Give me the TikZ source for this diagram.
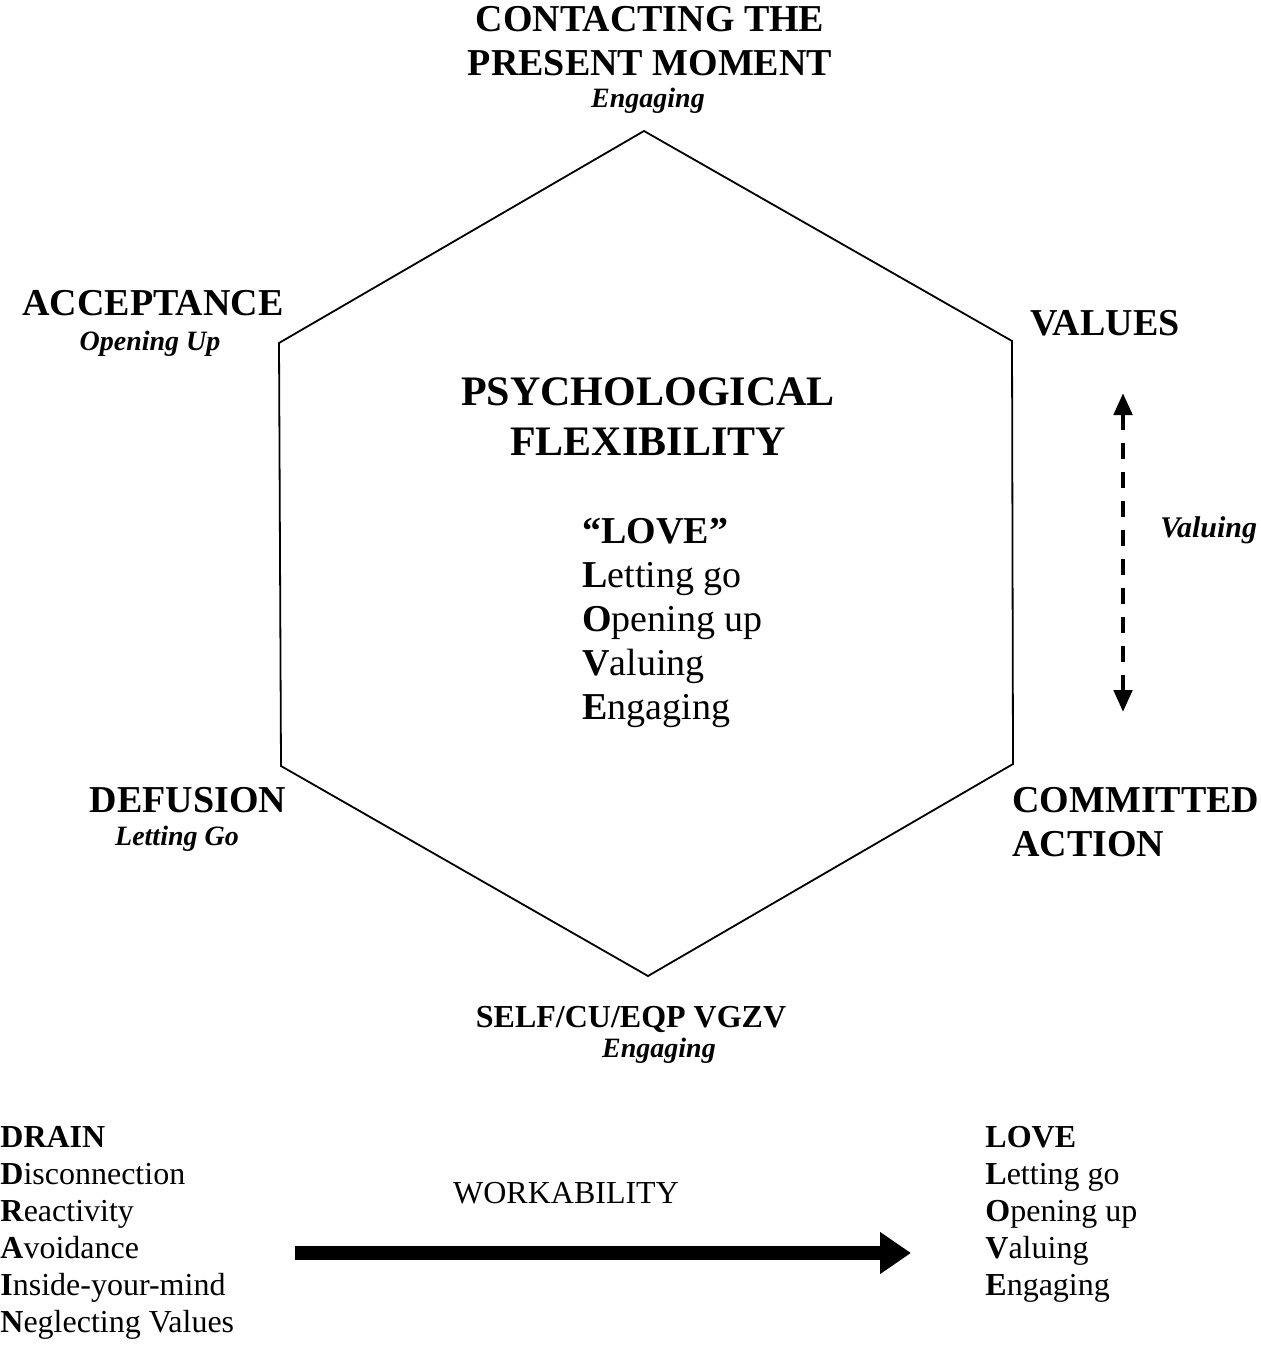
\documentclass[tikz,border=0pt]{standalone}
\usepackage{fontspec}
\setmainfont{Liberation Serif}
\usetikzlibrary{arrows.meta}

\begin{document}
\begin{tikzpicture}[x=0.5pt,y=-0.5pt,inner sep=0pt,
                    hex/.style={line width=0.9pt},
                    thick arrow/.style={line width=7pt,-{Triangle[length=15.5pt,width=20pt]}},
                    dash arrow/.style={line width=2.4pt,dash pattern=on 8pt off 6.5pt,
                      {Triangle[length=11pt,width=9pt]}-{Triangle[length=11pt,width=9pt]}}]
  \tikzstyle{corner}=[font=\fontsize{19}{22}\selectfont\bfseries,align=center]
  \tikzstyle{sub}=[font=\fontsize{14}{16}\selectfont\bfseries\itshape]
  \tikzstyle{title}=[font=\fontsize{21}{25}\selectfont\bfseries,align=center]
  \tikzstyle{bigitems}=[font=\fontsize{19}{22}\selectfont,align=left]
  \tikzstyle{items}=[font=\fontsize{16}{18.5}\selectfont,align=left]

  \useasboundingbox (0,0) rectangle (1260,1348);

  % hexagon
  \coordinate (hT)  at (644,131);
  \coordinate (hUR) at (1012,341);
  \coordinate (hLR) at (1013,764);
  \coordinate (hB)  at (648,976);
  \coordinate (hLL) at (281,766);
  \coordinate (hUL) at (279,343);
  \draw[hex] (hT) -- (hUR) -- (hLR) -- (hB) -- (hLL) -- (hUL) -- cycle;

  % the six corners (base = last line)
  \node[corner,anchor=base] (present) at (650,76) {CONTACTING THE\\PRESENT MOMENT};
  \node[sub,anchor=base]    (presentsub) at (648,108) {Engaging};
  \node[corner,anchor=base] (accept) at (153,315) {ACCEPTANCE};
  \node[sub,anchor=base]    (acceptsub) at (150,350) {Opening Up};
  \node[corner,anchor=base west] (values) at (1030,335) {VALUES};
  \node[corner,anchor=base] (defus) at (188,812) {DEFUSION};
  \node[sub,anchor=base]    (defussub) at (177,845) {Letting Go};
  \node[corner,anchor=base west,align=left] (commit) at (1012,856) {COMMITTED\\ACTION};
  \node[corner,anchor=base,font=\fontsize{16}{18}\selectfont\bfseries] (self) at (631,1027) {SELF/CU/EQP VGZV};
  \node[sub,anchor=base]    (selfsub) at (659,1057) {Engaging};

  % middle
  \node[title,anchor=base] (flex) at (648,455) {PSYCHOLOGICAL\\FLEXIBILITY};
  \node[bigitems,anchor=base west] (love) at (582,719)
    {\textbf{“LOVE”}\\\textbf{L}etting go\\\textbf{O}pening up\\\textbf{V}aluing\\\textbf{E}ngaging};

  % valuing arrow
  \coordinate (vtop) at (1123,393);
  \coordinate (vbot) at (1123,712);
  \draw[dash arrow] (vbot) -- (vtop);
  \node[sub,anchor=base west,font=\fontsize{15}{17}\selectfont\bfseries\itshape] (valuing) at (1160,537) {Valuing};

  % bottom lists
  \node[items,anchor=base west] (drain) at (0,1332)
    {\textbf{DRAIN}\\\textbf{D}isconnection\\\textbf{R}eactivity\\\textbf{A}voidance\\\textbf{I}nside-your-mind\\\textbf{N}eglecting Values};
  \node[items,anchor=base west] (lovelist) at (985,1295)
    {\textbf{LOVE}\\\textbf{L}etting go\\\textbf{O}pening up\\\textbf{V}aluing\\\textbf{E}ngaging};

  % workability
  \node[items,anchor=base] (work) at (566,1203) {WORKABILITY};
  \coordinate (wstart) at (295,1253);
  \coordinate (wend) at (911,1253);
  \draw[thick arrow] (wstart) -- (wend);
\end{tikzpicture}
\end{document}
